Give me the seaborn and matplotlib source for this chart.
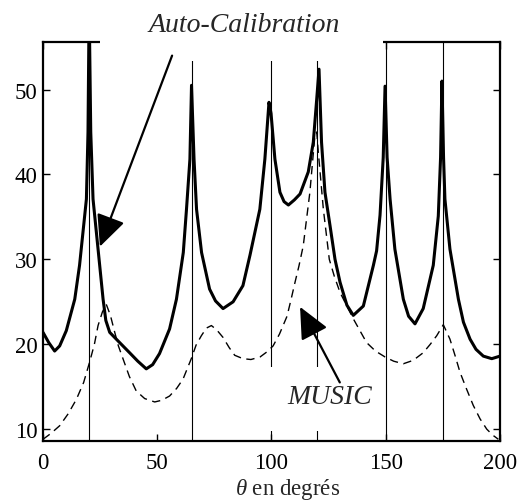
import matplotlib
matplotlib.use("Agg")
import matplotlib.pyplot as plt
from matplotlib.patches import Rectangle
import pandas as pd
import seaborn as sns

# directions des sources (degres)
sources = [20, 65, 100, 120, 150, 175]

# spectre auto-calibration (trait plein)
auto_theta = [0, 2.5, 5.1, 7.3, 10.2, 13.9, 16.0, 17.5, 19.0, 19.7, 20.2, 20.9, 21.9,
              24.1, 26.3, 27.5, 29.2, 32.8, 37.9, 41.5, 45.2, 48, 51, 55.4, 58.4,
              61.4, 62.8, 64.3, 65, 66.1, 67.2, 69.4, 72.9, 75.5, 78.8, 83.2, 87.5,
              90.6, 94.9, 97.1, 98.9, 99.8, 101.5, 103.7, 105.5, 107.4, 110, 112.5,
              116.1, 118.3, 119.8, 120.8, 121.9, 123.4, 125.6, 127.8, 130, 133, 135.8,
              140.2, 144.6, 146, 147.5, 148.9, 149.7, 150.6, 151.9, 154, 157.7, 160,
              162.8, 166.4, 170.8, 173, 174, 174.6, 175.3, 175.9, 178.1, 181.8, 184,
              186.9, 189.5, 192.7, 196.4, 200]
auto_db = [21.4, 20.2, 19.2, 19.8, 21.6, 25.3, 29.3, 33.2, 37.1, 45, 60, 45, 37.1,
           31.2, 25.3, 22.8, 21.4, 20.4, 19.0, 18.0, 17.1, 17.6, 18.9, 21.8, 25.3,
           30.8, 35.9, 41.8, 50.5, 41.8, 35.9, 30.8, 26.5, 25.1, 24.2, 25.0, 26.9,
           30.5, 35.9, 41.8, 48.5, 47.2, 41.8, 37.9, 36.8, 36.4, 37.0, 37.7,
           40.3, 43.8, 48.9, 52.4, 43.8, 37.9, 34.0, 30.0, 27.3, 24.6, 23.4,
           24.5, 29.3, 31.0, 35.2, 42, 50.4, 42, 37.1, 31.2, 25.3, 23.3,
           22.4, 24.2, 29.3, 35.1, 42, 51.0, 42, 37.1, 31.2, 25.3, 22.6,
           20.6, 19.4, 18.6, 18.3, 18.6]

# spectre MUSIC (tirets)
music_theta = [0, 3.5, 7.3, 11, 14.6, 17.8, 20.4, 22.5, 24.1, 26, 27.7, 29.5, 31.4,
               33, 35, 37.8, 40.8, 44.5, 48.9, 52, 55.4, 58.5, 61.3, 64.9, 67, 69.3,
               71.5, 73.7, 76, 78.8, 81.5, 83.9, 87.5, 91, 95, 98, 100.7, 103.5,
               106.8, 108.5, 110.3, 112, 113.9, 116.8, 119, 119.8, 120.5, 122.7, 125.3,
               127.5, 130, 135.8, 141.6, 145.5, 149.7, 153.5, 157.7, 162, 166.4, 169.5,
               172.3, 175.2, 178.1, 180.3, 182.5, 185.4, 188.3, 191.3, 194.2, 196.8,
               199.3]
music_db = [8.8, 9.5, 10.4, 11.8, 13.5, 15.5, 17.9, 20.0, 22.2, 23.8, 24.7, 23.4, 21.4,
            19.8, 18.3, 16.2, 14.5, 13.6, 13.2, 13.4, 13.9, 14.8, 15.9, 18.3, 19.9, 21.0,
            21.9, 22.2, 21.7, 20.8, 19.6, 18.7, 18.3, 18.2, 18.5, 19.1, 19.8, 21.2,
            23.3, 25.2, 27.3, 29.2, 31.6, 37.9, 44.6, 45.0, 42.6, 35.9, 30.0,
            28.0, 26.1, 23.0, 20.2, 19.2, 18.5, 18.0, 17.7, 18.1, 19.0, 20.0,
            21.0, 22.3, 20.6, 18.7, 16.7, 14.7, 12.8, 11.2, 10.0, 9.3,
            8.8]

x_ticks = [0, 50, 100, 150, 200]
y_ticks = [10, 20, 30, 40, 50]

sns.set_theme(style="ticks")
plt.rcParams["font.family"] = ["Liberation Serif", "DejaVu Serif"]
plt.rcParams["mathtext.fontset"] = "custom"
plt.rcParams["mathtext.it"] = "Liberation Serif:italic"
plt.rcParams["mathtext.rm"] = "Liberation Serif"

auto_df = pd.DataFrame({"theta": auto_theta, "db": auto_db})
music_df = pd.DataFrame({"theta": music_theta, "db": music_db})

fig = plt.figure(figsize=(5.23, 5.02), dpi=100)
ax = fig.add_axes([0.0822, 0.1195, 0.8738, 0.7948])

for s in sources:
    ax.axvline(s, color="black", lw=0.8, zorder=2)

sns.lineplot(data=auto_df, x="theta", y="db", color="black", lw=2.2,
             estimator=None, sort=False, ax=ax, zorder=2)
sns.lineplot(data=music_df, x="theta", y="db", color="black", lw=1.0,
             estimator=None, sort=False, ax=ax, zorder=2,
             linestyle=(0, (6, 4)))

ax.set_xlim(0, 200)
ax.set_ylim(8.6, 55.6)
ax.set_xticks(x_ticks)
ax.set_yticks(y_ticks)
ax.tick_params(direction="in", top=True, right=True, length=5, width=1,
               labelsize=16.5, colors="black")
ax.tick_params(axis="x", pad=8)
ax.tick_params(axis="y", pad=4)
for sp in ax.spines.values():
    sp.set_linewidth(1.6)
    sp.set_color("black")

ax.set_ylabel("")
ax.set_xlabel(r"$\theta$ en degrés", fontsize=16.5, labelpad=2, x=0.536)

# caches blancs derriere les legendes
ax.add_patch(Rectangle((24.9, 53.4), 123.9, 10, facecolor="white", edgecolor="none",
                       clip_on=False, zorder=3))
ax.add_patch(Rectangle((96, 9.8), 44, 7.5, facecolor="white", edgecolor="none",
                       clip_on=False, zorder=3))

arrow = dict(arrowstyle="-|>,head_length=0.97,head_width=0.45", mutation_scale=20,
             color="black", lw=1.6, shrinkA=0, shrinkB=0)

ax.text(88, 57.7, "Auto-Calibration", fontsize=20, fontstyle="italic",
        ha="center", va="center", zorder=4, clip_on=False)
ax.annotate("", xy=(24.9, 31.5), xytext=(56.5, 54.0), arrowprops=arrow,
            annotation_clip=False, zorder=4)

ax.text(125.6, 13.9, "MUSIC", fontsize=20, fontstyle="italic",
        ha="center", va="center", zorder=4)
ax.annotate("", xy=(112.5, 24.4), xytext=(129.9, 15.5), arrowprops=arrow,
            annotation_clip=False, zorder=4)

fig.savefig("out.png", dpi=100)
